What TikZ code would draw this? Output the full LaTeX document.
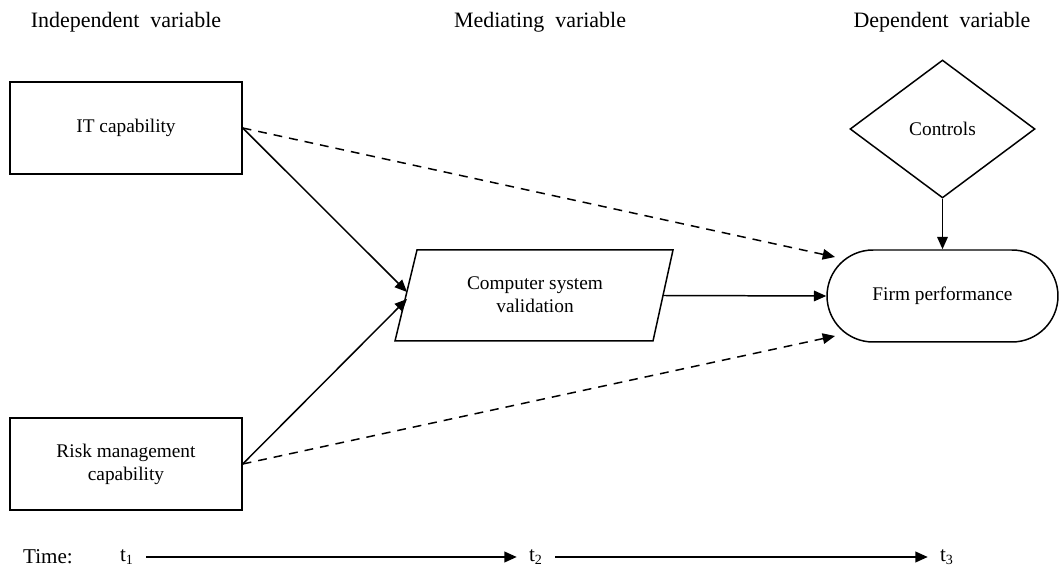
\documentclass[tikz,border=0pt]{standalone}
\usepackage{fontspec}
\setmainfont{Liberation Serif}
\usetikzlibrary{shapes.geometric,arrows.meta}
\tikzset{
  box/.style={draw, line width=0.85pt, minimum width=4.64cm, minimum height=1.84cm, align=center, font=\fontsize{11}{13}\selectfont, inner sep=0pt},
  head/.style={font=\fontsize{12.5}{15}\selectfont, inner sep=0pt},
  lbl/.style={font=\fontsize{11}{13}\selectfont, align=center, inner sep=0pt},
  conn/.style={line width=0.85pt, -{Triangle[length=7pt,width=6pt]}},
  dconn/.style={conn, dash pattern=on 5pt off 4pt},
  tarrow/.style={conn, line width=1.1pt, shorten <=0.24cm, shorten >=0.24cm},
}
\begin{document}
\begin{tikzpicture}[x=0.02cm,y=-0.02cm]
\useasboundingbox (0,0) rectangle (1062,573);
% headings
\node[head] (hI) at (126,22) {Independent\ \ variable};
\node[head] (hM) at (540,22) {Mediating\ \ variable};
\node[head] (hD) at (942,22) {Dependent\ \ variable};
% boxes
\node[box] (it) at (126,128) {IT capability};
\node[box] (risk) at (126,464) {Risk management\\capability};
% parallelogram
\coordinate (p1) at (417,250);
\coordinate (p2) at (673,250);
\coordinate (p3) at (653,341);
\coordinate (p4) at (395,341);
\draw[line width=0.85pt, line join=miter] (p1) -- (p2) -- (p3) -- (p4) -- cycle;
\node[lbl] (csv) at (535,295) {Computer system\\validation};
\coordinate (csvA) at (407,292);
\coordinate (csvB) at (407,299);
\coordinate (csvR) at (663,295.5);
% firm performance
\node[box, minimum width=4.62cm, rounded corners=0.92cm] (firm) at (942.5,296) {Firm performance};
\coordinate (fA) at (835,257);
\coordinate (fB) at (835,336);
% controls
\node[draw, diamond, line width=0.85pt, minimum width=3.7cm, minimum height=2.76cm, inner sep=0pt, font=\fontsize{11}{13}\selectfont] (ctrl) at (942.5,129) {Controls};
% connectors
\draw[conn] (it.east |- 0,128) -- (csvA);
\draw[conn] (risk.east |- 0,464) -- (csvB);
\draw[dconn] (it.east |- 0,128) -- (fA);
\draw[dconn] (risk.east |- 0,464) -- (fB);
\draw[conn] (csvR) -- (firm.west);
\draw[conn] (ctrl.south) -- (firm.north);
% time row
\node[lbl, font=\fontsize{12}{14}\selectfont] (time) at (48,557) {Time:};
\node[lbl, font=\fontsize{12}{14}\selectfont] (t1) at (127,557) {t\textsubscript{1}};
\node[lbl, font=\fontsize{12}{14}\selectfont] (t2) at (536,557) {t\textsubscript{2}};
\node[lbl, font=\fontsize{12}{14}\selectfont] (t3) at (947,557) {t\textsubscript{3}};
\draw[tarrow] (t1.east) -- (t2.west);
\draw[tarrow] (t2.east) -- (t3.west);
\end{tikzpicture}
\end{document}
